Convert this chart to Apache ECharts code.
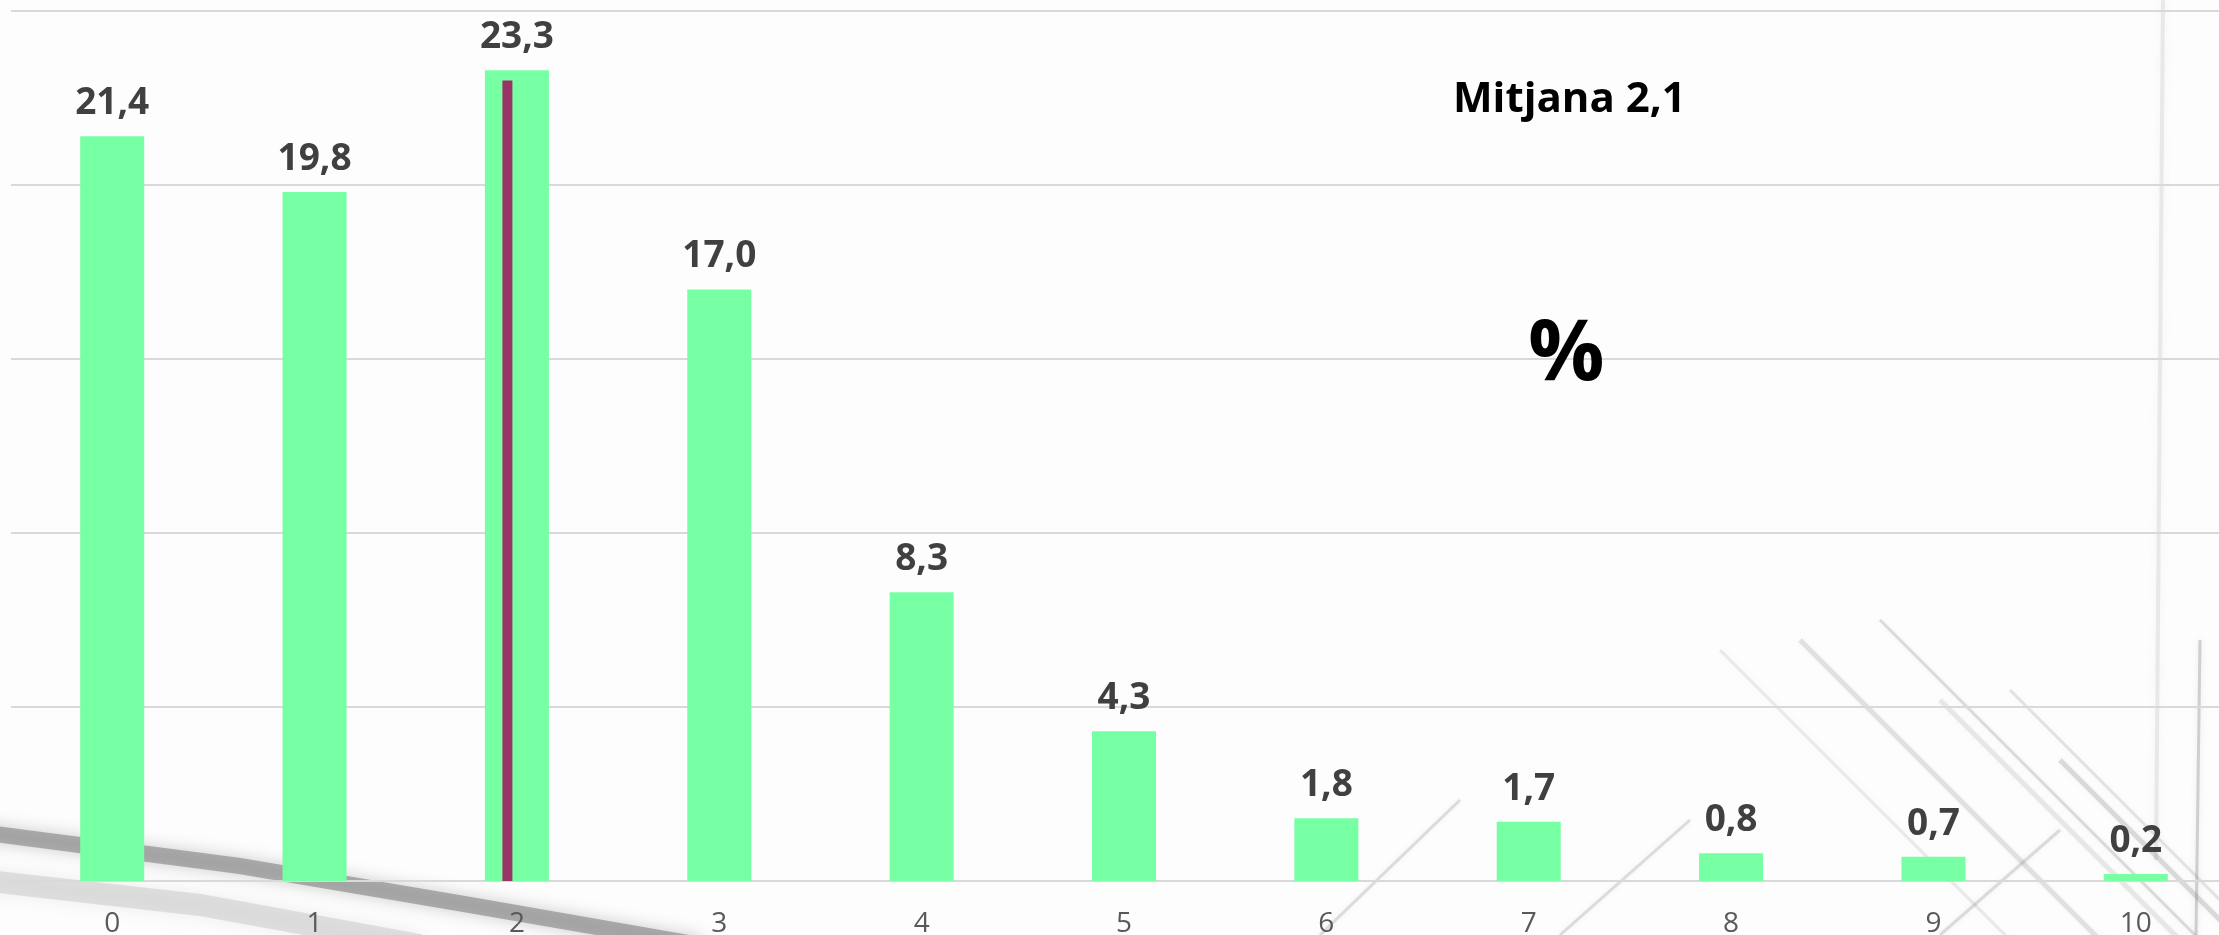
<!DOCTYPE html>
<html>
<head>
<meta charset="utf-8">
<script src="https://cdn.jsdelivr.net/npm/echarts@6/dist/echarts.min.js"></script>
<style>
  html, body { margin: 0; padding: 0; background: #fdfdfd; overflow: hidden; }
  #chart { width: 2219px; height: 935px; }
</style>
</head>
<body>
<div id="chart"></div>
<script>
// Number of items (0..10) and share of respondents in %
const categories = ['0', '1', '2', '3', '4', '5', '6', '7', '8', '9', '10'];
const shares = [21.4, 19.8, 23.3, 17.0, 8.3, 4.3, 1.8, 1.7, 0.8, 0.7, 0.2];

// Mean marker drawn as a thin bar near category 2
const meanMarker = [[1.953, 23.0]];
const meanText = 'Mitjana 2,1';
const unitText = '%';

const yTicks = { min: 0, max: 25, interval: 5 };

const fmt = v => v.toFixed(1).replace('.', ',');

const chart = echarts.init(document.getElementById('chart'), null, { renderer: 'canvas' });

// faint decorative strokes in the backdrop
const deco = [
  { type: 'polyline', shape: { points: [[-20, 832], [240, 866], [470, 905], [700, 945]] },
    style: { stroke: 'rgba(110,110,110,0.5)', lineWidth: 16, shadowBlur: 16, shadowColor: 'rgba(90,90,90,0.6)', fill: null } },
  { type: 'polyline', shape: { points: [[-20, 880], [200, 905], [420, 945]] },
    style: { stroke: 'rgba(170,170,170,0.3)', lineWidth: 22, shadowBlur: 18, shadowColor: 'rgba(150,150,150,0.5)', fill: null } },
  { type: 'line', shape: { x1: 2163, y1: 0, x2: 2156, y2: 860 },
    style: { stroke: 'rgba(200,200,200,0.35)', lineWidth: 4, shadowBlur: 8, shadowColor: 'rgba(190,190,190,0.5)' } },
  { type: 'line', shape: { x1: 2200, y1: 640, x2: 2196, y2: 935 },
    style: { stroke: 'rgba(150,150,150,0.4)', lineWidth: 3, shadowBlur: 6, shadowColor: 'rgba(150,150,150,0.5)' } }
];
const diag = [[1720, 650], [1800, 640], [1880, 620], [1940, 700], [2010, 690], [2060, 760]];
diag.forEach(([x, y], i) => {
  deco.push({ type: 'line', shape: { x1: x, y1: y, x2: x + 330, y2: y + 330 },
    style: { stroke: 'rgba(120,120,120,' + (0.14 + 0.05 * (i % 3)) + ')', lineWidth: 3 + (i % 2) * 2,
             shadowBlur: 6, shadowColor: 'rgba(120,120,120,0.35)' } });
});
[[1320, 935, 1460, 800], [1560, 935, 1690, 820], [1940, 935, 2060, 830]].forEach(([a, b, c, d]) => {
  deco.push({ type: 'line', shape: { x1: a, y1: b, x2: c, y2: d },
    style: { stroke: 'rgba(130,130,130,0.25)', lineWidth: 3, shadowBlur: 5, shadowColor: 'rgba(120,120,120,0.35)' } });
});

chart.setOption({
  backgroundColor: '#fdfdfd',
  animation: false,
  graphic: [
    ...deco.map(d => Object.assign({ silent: true, z: -10 }, d)),
    { type: 'text', left: 1453, top: 79, z: 10,
      style: { text: meanText, font: 'bold 42px "Open Sans"', fill: '#000000' } },
    { type: 'text', left: 1528, top: 313, z: 10,
      style: { text: unitText, font: 'bold 85px "Open Sans"', fill: '#000000' } }
  ],
  grid: { left: 11, width: 2226, top: 11, bottom: 54, containLabel: false, outerBoundsMode: 'none' },
  xAxis: [
    {
      type: 'category',
      data: categories,
      axisLine: { show: true, lineStyle: { color: '#d9d9d9', width: 2 } },
      axisTick: { show: false },
      axisLabel: { color: '#595959', fontFamily: 'Open Sans', fontSize: 28, margin: 29 },
      splitLine: { show: false }
    },
    {
      type: 'value',
      min: -0.5,
      max: 10.5,
      show: false,
      splitLine: { show: false }
    }
  ],
  yAxis: {
    type: 'value',
    min: yTicks.min,
    max: yTicks.max,
    interval: yTicks.interval,
    axisLine: { show: false },
    axisTick: { show: false },
    axisLabel: { show: false },
    splitLine: { show: true, lineStyle: { color: '#d9d9d9', width: 2 } }
  },
  series: [
    {
      type: 'bar',
      xAxisIndex: 0,
      data: shares,
      barWidth: 64,
      itemStyle: { color: '#77ffa4' },
      label: {
        show: true,
        position: 'top',
        distance: 14,
        formatter: p => fmt(p.value),
        color: '#404040',
        fontFamily: 'Open Sans',
        fontWeight: 'bold',
        fontSize: 37
      }
    },
    {
      type: 'bar',
      xAxisIndex: 1,
      data: meanMarker,
      barWidth: 10,
      itemStyle: { color: '#993366' },
      label: { show: false }
    }
  ]
});
</script>
</body>
</html>
